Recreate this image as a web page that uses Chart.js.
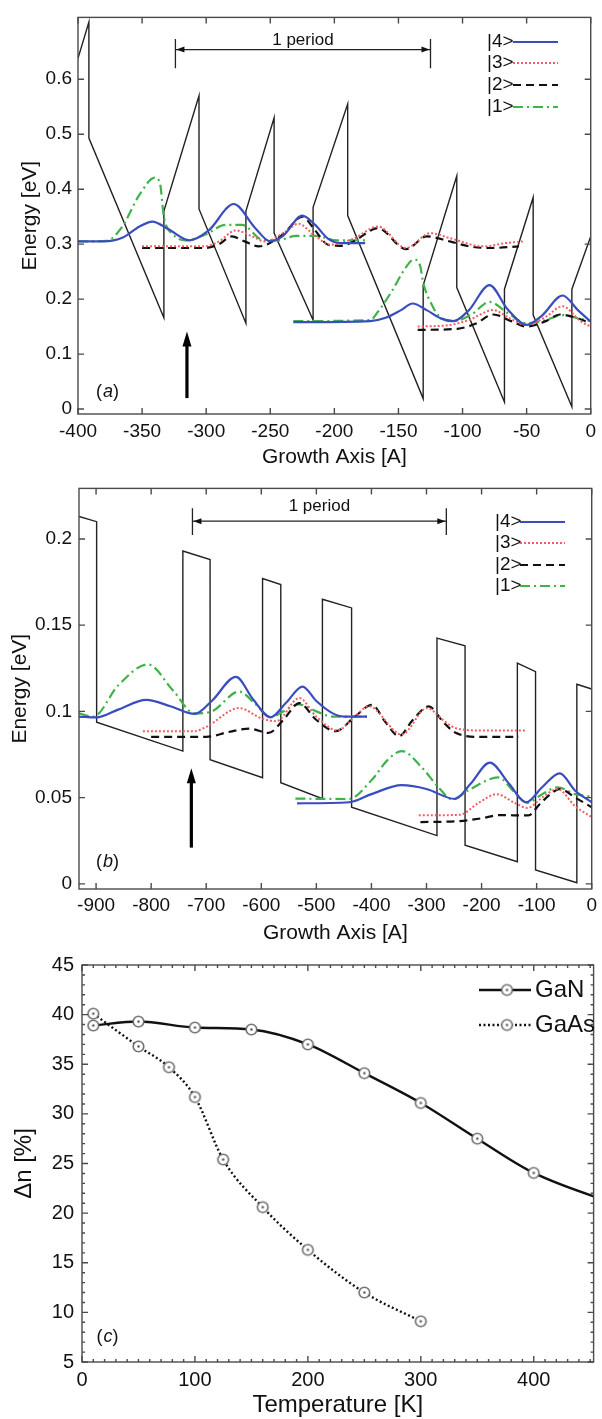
<!DOCTYPE html>
<html>
<head>
<meta charset="utf-8">
<title>Subband wavefunctions and population inversion</title>
<script src="https://cdn.jsdelivr.net/npm/chart.js@4.4.1/dist/chart.umd.min.js"></script>
<style>
  body { margin: 0; background: #fff; }
  .panel { position: absolute; left: 0; }
</style>
</head>
<body>
<canvas id="chartA" class="panel" width="602" height="470" style="top:0px"></canvas>
<canvas id="chartB" class="panel" width="602" height="475" style="top:470px"></canvas>
<canvas id="chartC" class="panel" width="602" height="474" style="top:945px"></canvas>
<script>
// ---------- panel (a): GaN structure, energy [eV] vs growth axis [A] ----------
const xTicksA = [-400, -350, -300, -250, -200, -150, -100, -50, 0];
const yTicksA = [0, 0.1, 0.2, 0.3, 0.4, 0.5, 0.6];

// conduction band profile
const bandA = [[-400,0.638],[-391.5,0.704],[-391.5,0.493],[-333,0.166],[-333,0.36],[-305.6,0.57],[-305.6,0.364],
  [-269,0.156],[-269,0.36],[-247,0.53],[-247,0.32],[-216.6,0.162],[-216.6,0.367],[-189.6,0.555],[-189.6,0.352],
  [-130.7,0.019],[-130.7,0.225],[-104.5,0.424],[-104.5,0.221],[-67.3,0.013],[-67.3,0.218],[-44.9,0.385],
  [-44.9,0.171],[-14.7,0.004],[-14.7,0.218],[0,0.314]];

// |4>
const s4a1 = [[-400,0.305],[-380,0.305],[-365,0.312],[-352,0.332],[-342,0.341],[-330,0.328],[-313,0.307],[-298,0.325],
  [-278.5,0.373],[-262,0.33],[-250,0.305],[-240,0.315],[-225,0.352],[-215,0.335],[-205,0.31],[-195,0.302],[-176,0.302]];
const s4a2 = [[-232,0.158],[-172,0.16],[-160,0.166],[-148,0.18],[-139,0.192],[-128,0.18],[-117,0.165],[-107,0.16],
  [-95,0.18],[-79,0.2256],[-65,0.182],[-50,0.153],[-38,0.17],[-22,0.2066],[-10,0.18],[0,0.159]];
// |3>
const s3a1 = [[-350,0.296],[-301,0.296],[-290,0.305],[-277,0.325],[-265,0.315],[-254,0.305],[-240,0.32],[-228,0.337],
  [-215,0.315],[-203,0.299],[-185,0.31],[-166,0.332],[-144,0.293],[-125,0.32],[-110,0.311],[-84,0.296],[-66,0.302],[-53,0.305]];
const s3a2 = [[-135,0.15],[-110,0.153],[-95,0.162],[-76,0.18],[-63,0.165],[-50,0.153],[-35,0.168],[-22,0.187],[-8,0.16],[0,0.15]];
// |2>
const s2a1 = [[-350,0.293],[-301,0.293],[-290,0.3],[-280,0.314],[-270,0.305],[-259,0.296],[-240,0.318],[-225,0.35],
  [-215,0.325],[-205,0.299],[-195,0.297],[-185,0.305],[-166,0.329],[-144,0.291],[-128,0.314],[-110,0.305],[-95,0.296],[-78,0.293],[-56,0.296]];
const s2a2 = [[-135,0.144],[-104,0.146],[-90,0.155],[-76,0.172],[-62,0.16],[-50,0.15],[-35,0.16],[-24,0.172],[-10,0.165],[0,0.156]];
// |1>
const s1a1 = [[-400,0.305],[-378,0.306],[-366,0.33],[-352,0.39],[-340,0.421],[-336,0.41],[-333,0.35],[-326,0.318],
  [-316,0.307],[-300,0.318],[-285,0.335],[-272,0.335],[-256,0.308],[-244,0.307],[-230,0.315],[-215,0.315],[-198,0.307],[-176,0.307]];
const s1a2 = [[-232,0.16],[-172,0.162],[-166,0.177],[-155,0.215],[-145,0.255],[-138,0.272],[-133,0.26],[-130.7,0.23],
  [-124,0.19],[-118,0.168],[-107,0.16],[-93,0.172],[-79,0.195],[-65,0.175],[-50,0.156],[-35,0.162],[-22,0.171],[-10,0.165],[0,0.16]];

// ---------- panel (b): GaAs structure ----------
const xTicksB = [-900, -800, -700, -600, -500, -400, -300, -200, -100, 0];
const yTicksB = [0, 0.05, 0.1, 0.15, 0.2];

const bandB = [[-931,0.213],[-899,0.21],[-899,0.0937],[-742.4,0.077],[-742.4,0.193],[-693,0.188],[-693,0.072],
  [-597.7,0.0615],[-597.7,0.177],[-564.6,0.1735],[-564.6,0.0586],[-489,0.0494],[-489,0.165],[-436,0.16],[-436,0.0444],
  [-281,0.028],[-281,0.1425],[-230,0.138],[-230,0.0224],[-135,0.0128],[-135,0.128],[-102,0.123],[-102,0.008],
  [-27,0.0006],[-27,0.1157],[0,0.113]];

const s4b1 = [[-931,0.097],[-899,0.0965],[-860,0.101],[-809,0.1067],[-765,0.103],[-721,0.0985],[-690,0.106],[-646,0.12],
  [-615,0.107],[-583,0.0966],[-555,0.105],[-525,0.1144],[-500,0.106],[-471,0.099],[-450,0.097],[-408,0.097]];
const s4b2 = [[-535,0.0467],[-440,0.0473],[-400,0.052],[-345,0.0572],[-300,0.055],[-248,0.0492],[-220,0.058],[-185,0.0703],
  [-150,0.058],[-119,0.0473],[-90,0.056],[-58,0.064],[-30,0.054],[0,0.0473]];
const s3b1 = [[-815,0.0885],[-722,0.0885],[-700,0.091],[-640,0.1019],[-600,0.096],[-573,0.0943],[-531,0.1077],[-500,0.097],
  [-462,0.089],[-430,0.097],[-405,0.103],[-345,0.0866],[-299,0.1019],[-270,0.095],[-248,0.0904],[-200,0.0889],[-121,0.0889]];
const s3b2 = [[-314,0.0397],[-240,0.04],[-205,0.047],[-173,0.052],[-140,0.047],[-117,0.044],[-90,0.05],[-62,0.055],[-30,0.045],[0,0.0387]];
const s2b1 = [[-800,0.0852],[-700,0.0852],[-660,0.088],[-622,0.09],[-587,0.0875],[-560,0.095],[-531,0.1048],[-500,0.095],
  [-465,0.0885],[-430,0.097],[-399,0.1038],[-375,0.094],[-350,0.0856],[-325,0.095],[-296,0.1029],[-270,0.094],[-248,0.0877],
  [-200,0.0852],[-133,0.0852]];
const s2b2 = [[-311,0.0358],[-240,0.0364],[-200,0.038],[-168,0.0398],[-115,0.0397],[-95,0.046],[-75,0.052],[-58,0.055],[-30,0.05],[0,0.0444]];
const s1b1 = [[-931,0.0988],[-905,0.097],[-860,0.115],[-806,0.1272],[-760,0.112],[-721,0.0988],[-690,0.1],[-640,0.1115],
  [-610,0.104],[-583,0.0966],[-560,0.1],[-531,0.104],[-500,0.1],[-471,0.097],[-408,0.097]];
const s1b2 = [[-538,0.0494],[-441,0.0492],[-400,0.06],[-370,0.072],[-345,0.077],[-310,0.068],[-278,0.0559],[-254,0.049],
  [-220,0.055],[-170,0.0617],[-140,0.053],[-117,0.047],[-90,0.052],[-62,0.056],[-30,0.052],[0,0.0506]];

// ---------- panel (c): population inversion vs temperature ----------
const xTicksC = [0, 100, 200, 300, 400];
const yTicksC = [5, 10, 15, 20, 25, 30, 35, 40, 45];
const tempGaN = [10, 50, 100, 150, 200, 250, 300, 350, 400, 500];
const dnGaN = [38.9, 39.3, 38.7, 38.5, 37.0, 34.1, 31.1, 27.5, 24.05, 19.9];
const tempGaAs = [10, 50, 77, 100, 125, 160, 200, 250, 300];
const dnGaAs = [40.1, 36.8, 34.7, 31.7, 25.4, 20.6, 16.3, 12.0, 9.1];

// ---------- styles ----------
const FAMILY = "'Liberation Sans', Arial, Helvetica, sans-serif";
const INK = '#111';
const FRAME = '#4a4a4a';
Chart.defaults.font.family = FAMILY;

const ST = {
  s4: { borderColor: '#3a4dbf', borderWidth: 2.2 },
  s3: { borderColor: '#ef5f62', borderWidth: 2, borderDash: [2, 2] },
  s2: { borderColor: '#111111', borderWidth: 2.2, borderDash: [8, 5] },
  s1: { borderColor: '#3fb34a', borderWidth: 2.2, borderDash: [10, 4, 2, 4] },
  band: { borderColor: '#222222', borderWidth: 1.4 },
  gan: { borderColor: '#111111', borderWidth: 2.4 },
  gaas: { borderColor: '#111111', borderWidth: 2.4, borderDash: [2, 2.5] }
};

const pts = arr => arr.map(([x, y]) => ({ x, y }));
const zip = (xs, ys) => xs.map((x, i) => ({ x, y: ys[i] }));

function curve(arr, st, isBand) {
  return Object.assign({
    data: pts(arr), showLine: true, pointRadius: 0, fill: false,
    order: isBand ? 5 : 1,
    tension: 0,
    cubicInterpolationMode: isBand ? 'default' : 'monotone'
  }, st);
}

function ringMarker() {
  const c = document.createElement('canvas');
  c.width = c.height = 15;
  const g = c.getContext('2d');
  g.fillStyle = '#fff'; g.strokeStyle = '#6e6e6e'; g.lineWidth = 1.6;
  g.beginPath(); g.arc(7.5, 7.5, 5.3, 0, Math.PI * 2); g.fill(); g.stroke();
  g.fillStyle = '#555'; g.beginPath(); g.arc(7.5, 7.5, 1.2, 0, Math.PI * 2); g.fill();
  return c;
}
const RING = ringMarker();

// frame, inward ticks, titles, legend and arrows
function strokeLine(ctx, st, x1, y1, x2, y2) {
  ctx.save();
  ctx.strokeStyle = st.borderColor; ctx.lineWidth = st.borderWidth; ctx.setLineDash(st.borderDash || []);
  ctx.beginPath(); ctx.moveTo(x1, y1); ctx.lineTo(x2, y2); ctx.stroke();
  ctx.restore();
}

function panelLabel(ctx, letter, cx, cy, size) {
  const up = size + 'px ' + FAMILY, it = 'italic ' + size + 'px ' + FAMILY;
  ctx.font = up; const wp = ctx.measureText('(').width, wq = ctx.measureText(')').width;
  ctx.font = it; const wl = ctx.measureText(letter).width;
  let xx = cx - (wp + wl + wq) / 2;
  ctx.textBaseline = 'middle'; ctx.textAlign = 'left'; ctx.fillStyle = INK;
  ctx.font = up; ctx.fillText('(', xx, cy); xx += wp;
  ctx.font = it; ctx.fillText(letter, xx + 1, cy); xx += wl + 1;
  ctx.font = up; ctx.fillText(')', xx, cy);
}

const decor = {
  id: 'decor',
  afterDatasetsDraw(chart, args, o) {
    const { ctx, chartArea: a } = chart;
    const xs = chart.scales.x, ys = chart.scales.y;
    ctx.save();

    // period bracket
    if (o.period) {
      const p = o.period;
      const x1 = xs.getPixelForValue(p.from), x2 = xs.getPixelForValue(p.to);
      const yl = ys.getPixelForValue(p.y), yt = ys.getPixelForValue(p.top), yb = ys.getPixelForValue(p.bottom);
      ctx.strokeStyle = '#222'; ctx.lineWidth = 1.3; ctx.fillStyle = '#111';
      ctx.beginPath();
      ctx.moveTo(x1, yt); ctx.lineTo(x1, yb);
      ctx.moveTo(x2, yt); ctx.lineTo(x2, yb);
      ctx.moveTo(x1, yl); ctx.lineTo(x2, yl);
      ctx.stroke();
      ctx.beginPath();
      ctx.moveTo(x1 + 1, yl); ctx.lineTo(x1 + 9, yl - 3); ctx.lineTo(x1 + 9, yl + 3); ctx.closePath();
      ctx.moveTo(x2 - 1, yl); ctx.lineTo(x2 - 9, yl - 3); ctx.lineTo(x2 - 9, yl + 3); ctx.closePath();
      ctx.fill();
      ctx.font = '17px ' + FAMILY; ctx.textAlign = 'center'; ctx.textBaseline = 'alphabetic';
      ctx.fillText(p.label, (x1 + x2) / 2, ys.getPixelForValue(p.labelY));
    }

    // thick vertical arrow
    if (o.arrow) {
      const ar = o.arrow;
      const px = xs.getPixelForValue(ar.x), y0 = ys.getPixelForValue(ar.from), y1 = ys.getPixelForValue(ar.to);
      ctx.strokeStyle = '#000'; ctx.fillStyle = '#000'; ctx.lineWidth = 3.2;
      ctx.beginPath(); ctx.moveTo(px, y0); ctx.lineTo(px, y1 + 12); ctx.stroke();
      ctx.beginPath(); ctx.moveTo(px, y1); ctx.lineTo(px - 4.5, y1 + 15); ctx.lineTo(px + 4.5, y1 + 15); ctx.closePath(); ctx.fill();
    }

    // frame + ticks on all four sides
    ctx.strokeStyle = FRAME; ctx.lineWidth = 1.4; ctx.setLineDash([]);
    ctx.strokeRect(a.left, a.top, a.right - a.left, a.bottom - a.top);
    ctx.beginPath();
    const tx = (v, L) => { const p = xs.getPixelForValue(v); ctx.moveTo(p, a.bottom); ctx.lineTo(p, a.bottom - L); ctx.moveTo(p, a.top); ctx.lineTo(p, a.top + L); };
    const ty = (v, L) => { const p = ys.getPixelForValue(v); ctx.moveTo(a.left, p); ctx.lineTo(a.left + L, p); ctx.moveTo(a.right, p); ctx.lineTo(a.right - L, p); };
    xs.ticks.forEach(t => tx(t.value, 6));
    ys.ticks.forEach(t => ty(t.value, 6));
    if (o.minor) {
      for (let v = xs.min; v <= xs.max; v += o.minor[0]) tx(v, 3);
      for (let v = ys.min; v <= ys.max; v += o.minor[1]) ty(v, 3);
    }
    ctx.stroke();

    // axis titles
    ctx.fillStyle = INK;
    ctx.font = o.titleSize + 'px ' + FAMILY;
    ctx.textAlign = 'center'; ctx.textBaseline = 'middle';
    ctx.fillText(o.xTitle, (a.left + a.right) / 2, o.xTitleY);
    ctx.save();
    ctx.translate(o.yTitleX, (a.top + a.bottom) / 2);
    ctx.rotate(-Math.PI / 2);
    ctx.fillText(o.yTitle, 0, 0);
    ctx.restore();

    panelLabel(ctx, o.letter, o.letterPos[0], o.letterPos[1], 18);

    // legend: label first, then line sample
    if (o.legend) {
      const lg = o.legend;
      ctx.font = lg.size + 'px ' + FAMILY; ctx.textAlign = 'left'; ctx.textBaseline = 'middle'; ctx.fillStyle = INK;
      lg.items.forEach((it, i) => {
        const yy = lg.rows[i];
        if (lg.textFirst) {
          ctx.fillText(it.label, lg.textX, yy);
          strokeLine(ctx, it.style, lg.x1, yy, lg.x2, yy);
        } else {
          strokeLine(ctx, it.style, lg.x1, yy, lg.x2, yy);
          if (lg.marker) ctx.drawImage(lg.marker, (lg.x1 + lg.x2) / 2 - lg.marker.width / 2 + 2, yy - lg.marker.height / 2);
          ctx.fillStyle = INK;
          ctx.fillText(it.label, lg.textX, yy);
        }
      });
    }
    ctx.restore();
  }
};

function axis(min, max, ticks, size, pad, fit, fmt) {
  return {
    type: 'linear', min, max,
    grid: { display: false, drawTicks: false },
    border: { display: false },
    ticks: {
      font: { size }, color: INK, padding: pad, autoSkip: false, maxRotation: 0,
      callback: fmt || (v => String(v))
    },
    afterBuildTicks: s => { s.ticks = ticks.map(v => ({ value: v })); },
    afterFit: fit
  };
}

function panel(id, o) {
  return new Chart(document.getElementById(id), {
    type: 'scatter',
    data: { datasets: o.datasets },
    options: {
      responsive: false, animation: false, events: [],
      layout: { padding: { top: o.box.top, right: o.box.right, left: 0, bottom: 0 } },
      plugins: { legend: { display: false }, tooltip: { enabled: false }, decor: o.decor },
      scales: {
        x: axis(o.x[0], o.x[1], o.xTicks, o.tick, o.xPad, s => { s.height = o.box.xh; }),
        y: axis(o.y[0], o.y[1], o.yTicks, o.tick, o.yPad, s => { s.width = o.box.yw; })
      }
    },
    plugins: [decor]
  });
}

const stateLegend = [
  { label: '|4>', style: ST.s4 }, { label: '|3>', style: ST.s3 },
  { label: '|2>', style: ST.s2 }, { label: '|1>', style: ST.s1 }
];

// (a)
panel('chartA', {
  box: { top: 10, right: 7, xh: 56, yw: 78 },
  x: [-400, 0], y: [-0.009, 0.7125], xTicks: xTicksA, yTicks: yTicksA, tick: 19, xPad: 6, yPad: 6,
  datasets: [
    curve(s4a1, ST.s4), curve(s4a2, ST.s4),
    curve(s3a1, ST.s3), curve(s3a2, ST.s3),
    curve(s2a1, ST.s2), curve(s2a2, ST.s2),
    curve(s1a1, ST.s1), curve(s1a2, ST.s1),
    curve(bandA, ST.band, true)
  ],
  decor: {
    xTitle: 'Growth Axis [A]', xTitleY: 457, yTitle: 'Energy [eV]', yTitleX: 30, titleSize: 21,
    letter: 'a', letterPos: [107, 392],
    period: { from: -324, to: -125, y: 0.654, top: 0.673, bottom: 0.62, label: '1 period', labelY: 0.6625 },
    arrow: { x: -315, from: 0.02, to: 0.141 },
    legend: { textFirst: true, size: 19, textX: 487, x1: 513, x2: 558, rows: [42, 63, 85, 107], items: stateLegend }
  }
});

// (b)
panel('chartB', {
  box: { top: 15, right: 7, xh: 56, yw: 79 },
  x: [-931, 0], y: [-0.003, 0.2293], xTicks: xTicksB, yTicks: yTicksB, tick: 19, xPad: 5, yPad: 7,
  datasets: [
    curve(s4b1, ST.s4), curve(s4b2, ST.s4),
    curve(s3b1, ST.s3), curve(s3b2, ST.s3),
    curve(s2b1, ST.s2), curve(s2b2, ST.s2),
    curve(s1b1, ST.s1), curve(s1b2, ST.s1),
    curve(bandB, ST.band, true)
  ],
  decor: {
    xTitle: 'Growth Axis [A]', xTitleY: 463, yTitle: 'Energy [eV]', yTitleX: 20, titleSize: 21,
    letter: 'b', letterPos: [107, 392],
    period: { from: -725, to: -264, y: 0.2103, top: 0.2178, bottom: 0.2023, label: '1 period', labelY: 0.2161 },
    arrow: { x: -727, from: 0.021, to: 0.067 },
    legend: { textFirst: true, size: 19, textX: 495, x1: 520, x2: 565, rows: [52, 73, 95, 116], items: stateLegend }
  }
});

// (c)
const markerSet = { pointStyle: RING, pointRadius: 6, pointHoverRadius: 6 };
panel('chartC', {
  box: { top: 14, right: 6, xh: 57, yw: 82 },
  x: [0, 453], y: [5, 45], xTicks: xTicksC, yTicks: yTicksC, tick: 20, xPad: 6, yPad: 8,
  datasets: [
    Object.assign({ data: zip(tempGaN, dnGaN), showLine: true, cubicInterpolationMode: 'monotone' }, ST.gan, markerSet),
    Object.assign({ data: zip(tempGaAs, dnGaAs), showLine: true, cubicInterpolationMode: 'monotone' }, ST.gaas, markerSet)
  ],
  decor: {
    xTitle: 'Temperature [K]', xTitleY: 460, yTitle: 'Δn [%]', yTitleX: 24, titleSize: 24,
    letter: 'c', letterPos: [107, 392], minor: [10, 1],
    legend: { textFirst: false, size: 24, textX: 535, x1: 479, x2: 531, rows: [45, 80], marker: RING,
      items: [{ label: 'GaN', style: ST.gan }, { label: 'GaAs', style: ST.gaas }] }
  }
});
</script>
</body>
</html>
